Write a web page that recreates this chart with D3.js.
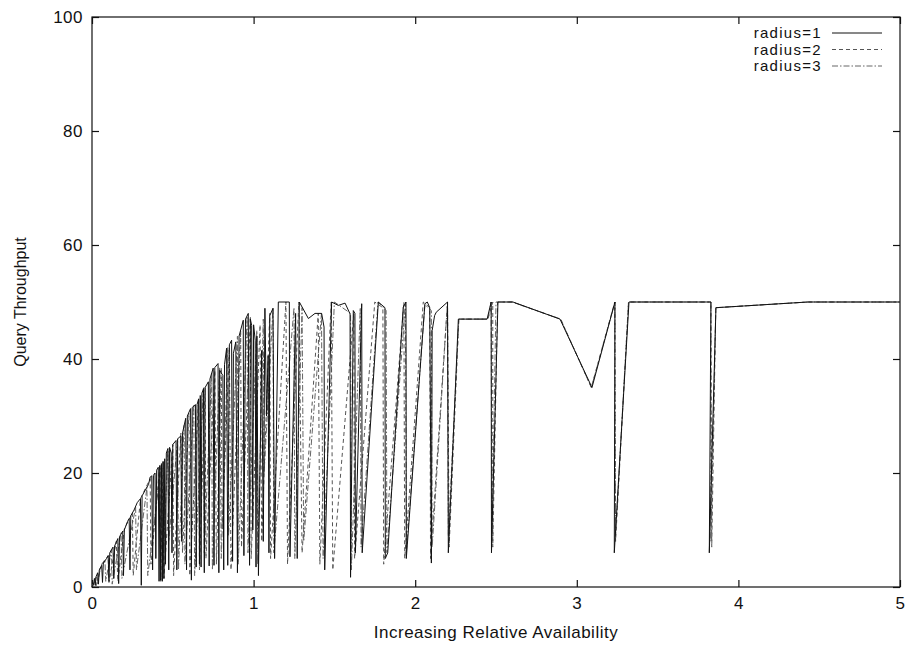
<!DOCTYPE html>
<html>
<head>
<meta charset="utf-8">
<script src="https://cdn.jsdelivr.net/npm/d3@7"></script>
<style>
  body { margin: 0; background: #fff; }
  text { font-family: "Liberation Sans", Arial, Helvetica, sans-serif; fill: #111; }
</style>
</head>
<body>
<div id="chart"></div>
<script>
let xTicks = [0, 1, 2, 3, 4, 5],
    yTicks = [0, 20, 40, 60, 80, 100];

let seriesNames = ['radius=1', 'radius=2', 'radius=3'];

// radius=1 : solid line
let radius1 = [
    [0, 0], [0.01, 0.5], [0.015, 1.5], [0.02, 0.3], [0.025, 1.8], [0.035, 2.5], [0.04, 0.5], [0.045, 3],
    [0.06, 3.8], [0.065, 0.8], [0.07, 4.2], [0.09, 5], [0.1, 5.5], [0.105, 1], [0.11, 6], [0.13, 7],
    [0.135, 1.5], [0.14, 7.2], [0.16, 8.5], [0.165, 0.6], [0.17, 8.8], [0.19, 9.8], [0.195, 2], [0.2, 10],
    [0.22, 11.5], [0.23, 12], [0.235, 3], [0.24, 12.5], [0.26, 13.5], [0.28, 14.8], [0.3, 15.5], [0.305, 0.3],
    [0.31, 16], [0.33, 17], [0.35, 18], [0.36, 19.3], [0.37, 19.5], [0.375, 3], [0.38, 19.6], [0.39, 20],
    [0.395, 5], [0.4, 20.5], [0.41, 21], [0.415, 1], [0.42, 21.3], [0.425, 1.2], [0.43, 21.5], [0.435, 1],
    [0.44, 22], [0.445, 1.5], [0.45, 22.5], [0.455, 4], [0.46, 23.5], [0.47, 24.3], [0.475, 3], [0.48, 24.5],
    [0.49, 23.5], [0.495, 6], [0.5, 25], [0.52, 25.7], [0.525, 3], [0.53, 26], [0.55, 26.5], [0.555, 8],
    [0.56, 27], [0.58, 29.6], [0.585, 3], [0.59, 30], [0.61, 31.3], [0.615, 1.2], [0.62, 31.5], [0.64, 32],
    [0.645, 3.5], [0.65, 32], [0.66, 33], [0.665, 4], [0.67, 33.6], [0.675, 3.5], [0.68, 34], [0.69, 34.8],
    [0.695, 2.5], [0.7, 35], [0.72, 36], [0.725, 3.7], [0.73, 36.5], [0.75, 38.4], [0.755, 3.8], [0.76, 38.5],
    [0.78, 39.2], [0.785, 2.5], [0.79, 38], [0.81, 37.1], [0.815, 3], [0.82, 39], [0.833, 41.9], [0.84, 3.8],
    [0.85, 42.5], [0.864, 43.3], [0.87, 4.5], [0.875, 41], [0.89, 43], [0.9, 2.5], [0.91, 44], [0.936, 46.8],
    [0.94, 5.5], [0.95, 47], [0.967, 48], [0.975, 3.8], [0.98, 47], [0.988, 45.9], [0.995, 10], [1.0, 46],
    [1.01, 43.3], [1.015, 3.5], [1.02, 44], [1.03, 2], [1.05, 41.5], [1.06, 8], [1.07, 48.9], [1.08, 30],
    [1.09, 40.6], [1.095, 6], [1.1, 47.6], [1.12, 48.9], [1.13, 5], [1.153, 50], [1.221, 50], [1.225, 5.3],
    [1.26, 48], [1.27, 5], [1.283, 50], [1.339, 47.1], [1.38, 48], [1.421, 48], [1.436, 45.6], [1.44, 3],
    [1.483, 50], [1.524, 49.4], [1.566, 49.8], [1.597, 47.9], [1.6, 1.7], [1.617, 48.5], [1.627, 48],
    [1.63, 6], [1.669, 49.7], [1.672, 6], [1.772, 50], [1.813, 49], [1.815, 5], [1.83, 6], [1.926, 49.1],
    [1.943, 50], [1.945, 5], [2.06, 49.7], [2.075, 50], [2.09, 49], [2.1, 4.2], [2.105, 45], [2.12, 47.6],
    [2.13, 48.2], [2.2, 50], [2.205, 6], [2.267, 47], [2.445, 47], [2.47, 50], [2.472, 6], [2.512, 50],
    [2.605, 50], [2.896, 47], [3.094, 35], [3.236, 50], [3.232, 6], [3.323, 50], [3.83, 50], [3.82, 6],
    [3.861, 49], [4.43, 50], [5, 50]
];

// radius=2 : dashed line
let radius2 = [
    [0, 0], [0.03, 2], [0.035, 0.5], [0.05, 3.2], [0.1, 5.5], [0.105, 0.8], [0.15, 8], [0.16, 1],
    [0.2, 10.2], [0.25, 13], [0.255, 2], [0.3, 15.5], [0.36, 19], [0.365, 4], [0.42, 21.5], [0.425, 1],
    [0.44, 22], [0.445, 1.5], [0.5, 25], [0.505, 2], [0.55, 27], [0.56, 6], [0.6, 30.5], [0.605, 2],
    [0.66, 33], [0.665, 3], [0.7, 35], [0.705, 5], [0.76, 38], [0.77, 4], [0.8, 38.5], [0.805, 10],
    [0.85, 42], [0.86, 3], [0.92, 45], [0.925, 7], [0.98, 47.5], [0.985, 5], [1.04, 46], [1.05, 8],
    [1.1, 48], [1.105, 5], [1.2, 50], [1.21, 4], [1.28, 50], [1.3, 6], [1.4, 48], [1.41, 4],
    [1.48, 50], [1.49, 3], [1.62, 48], [1.625, 5], [1.75, 50], [1.8, 49], [1.805, 4], [1.93, 50],
    [1.935, 5], [2.05, 50], [2.09, 49], [2.095, 5], [2.2, 50], [2.21, 7], [2.27, 47], [2.45, 47],
    [2.48, 50], [2.48, 7], [2.51, 50], [2.6, 50], [2.9, 47], [3.09, 35], [3.235, 50], [3.24, 8],
    [3.32, 50], [3.83, 50], [3.835, 7], [3.86, 49], [4.43, 50], [5, 50]
];

// radius=3 : dash-dot line
let radius3 = [
    [0, 0], [0.02, 1.2], [0.025, 0.2], [0.06, 4], [0.08, 4.8], [0.085, 1], [0.12, 6.5], [0.125, 0.5],
    [0.18, 9.5], [0.185, 1.5], [0.27, 14], [0.275, 3], [0.34, 17.5], [0.345, 2], [0.43, 21.7], [0.435, 1.3],
    [0.47, 24], [0.475, 8], [0.53, 26], [0.535, 3], [0.57, 28.5], [0.575, 4], [0.63, 32], [0.635, 2],
    [0.69, 35], [0.695, 6], [0.74, 37.5], [0.745, 3], [0.79, 38.5], [0.8, 5], [0.84, 42], [0.845, 9],
    [0.9, 44], [0.905, 4], [0.96, 47.5], [0.965, 6], [1.02, 45], [1.025, 4], [1.06, 47], [1.065, 20],
    [1.12, 49], [1.125, 6], [1.25, 49], [1.255, 5], [1.3, 49], [1.31, 8], [1.42, 48], [1.43, 5],
    [1.5, 50], [1.6, 48], [1.605, 3], [1.66, 49], [1.665, 7], [1.77, 50], [1.82, 48.5], [1.825, 6],
    [1.94, 50], [1.945, 6], [2.06, 49.5], [2.1, 48.5], [2.105, 7], [2.2, 50], [2.205, 9], [2.27, 47],
    [2.45, 47], [2.47, 50], [2.475, 8], [2.5, 50], [2.6, 50], [2.9, 47], [3.09, 35], [3.236, 50],
    [3.24, 9], [3.32, 50], [3.83, 50], [3.83, 8], [3.86, 49], [4.43, 50], [5, 50]
];

let allSeries = [radius1, radius2, radius3];
let dashes = [null, '4,3', '6,2,1.5,2'];
let strokes = ['#111', '#555', '#666'];

let width = 909, height = 647,
    margin = {left: 92, top: 17, right: 9, bottom: 60},
    plotWidth = width - margin.left - margin.right,
    plotHeight = height - margin.top - margin.bottom;

let svg = d3.select('#chart').append('svg')
    .attr('width', width)
    .attr('height', height);

let g = svg.append('g')
    .attr('transform', `translate(${margin.left}, ${margin.top})`);

let x = d3.scaleLinear().domain([0, 5]).range([0, plotWidth]);
let y = d3.scaleLinear().domain([0, 100]).range([plotHeight, 0]);

// border
g.append('rect')
    .attr('width', plotWidth)
    .attr('height', plotHeight)
    .attr('fill', 'none')
    .attr('stroke', '#111')
    .attr('stroke-width', 1.2);

// the scan is a bit wide, so horizontal text gets a larger size and some spacing
let fontSize = 17, spacing = '0.5px';

g.append('g')
    .attr('class', 'axis')
    .call(d3.axisLeft(y).tickValues(yTicks).tickSize(-7).tickSizeOuter(0).tickPadding(9));

g.append('g')
    .attr('class', 'axis')
    .attr('transform', `translate(${plotWidth}, 0)`)
    .call(d3.axisRight(y).tickValues(yTicks).tickSize(-7).tickSizeOuter(0).tickFormat(''));

g.append('g')
    .attr('class', 'axis')
    .attr('transform', `translate(0, ${plotHeight})`)
    .call(d3.axisBottom(x).tickValues(xTicks).tickSize(-7).tickSizeOuter(0).tickPadding(10).tickFormat(d3.format('d')));

g.append('g')
    .attr('class', 'axis')
    .call(d3.axisTop(x).tickValues(xTicks).tickSize(-7).tickSizeOuter(0).tickFormat(''));

g.selectAll('.axis .domain').remove();
g.selectAll('.axis line').attr('stroke', '#111').attr('stroke-width', 1.2);
g.selectAll('.axis text')
    .style('font-size', fontSize + 'px')
    .style('letter-spacing', spacing)
    .style('font-family', '"Liberation Sans", Arial, sans-serif')
    .attr('fill', '#111');

// lines
let line = d3.line()
    .x(d => x(d[0]))
    .y(d => y(d[1]));

let lineG = g.append('g');
allSeries.slice().reverse().forEach((s, k) => {
    let i = allSeries.length - 1 - k;
    lineG.append('path')
        .datum(s)
        .attr('fill', 'none')
        .attr('stroke', strokes[i])
        .attr('stroke-width', 1)
        .attr('stroke-dasharray', dashes[i])
        .attr('d', line);
});

// axis titles
svg.append('text')
    .attr('x', margin.left + plotWidth / 2)
    .attr('y', 638)
    .attr('text-anchor', 'middle')
    .style('font-size', fontSize + 'px')
    .style('letter-spacing', spacing)
    .text('Increasing Relative Availability');

svg.append('text')
    .attr('transform', `translate(26, ${margin.top + plotHeight / 2}) rotate(-90)`)
    .attr('text-anchor', 'middle')
    .style('font-size', '16px')
    .text('Query Throughput');

// legend
let legend = g.append('g')
    .attr('transform', `translate(${plotWidth - 78}, 16)`);

seriesNames.forEach((name, i) => {
    let row = legend.append('g').attr('transform', `translate(0, ${i * 16.5})`);
    row.append('text')
        .attr('x', 0)
        .attr('dy', '0.35em')
        .attr('text-anchor', 'end')
        .style('font-size', '15px')
        .style('letter-spacing', '1.3px')
        .text(name);
    row.append('line')
        .attr('x1', 10)
        .attr('x2', 60)
        .attr('stroke', strokes[i])
        .attr('stroke-width', 1)
        .attr('stroke-dasharray', dashes[i]);
});
</script>
</body>
</html>
